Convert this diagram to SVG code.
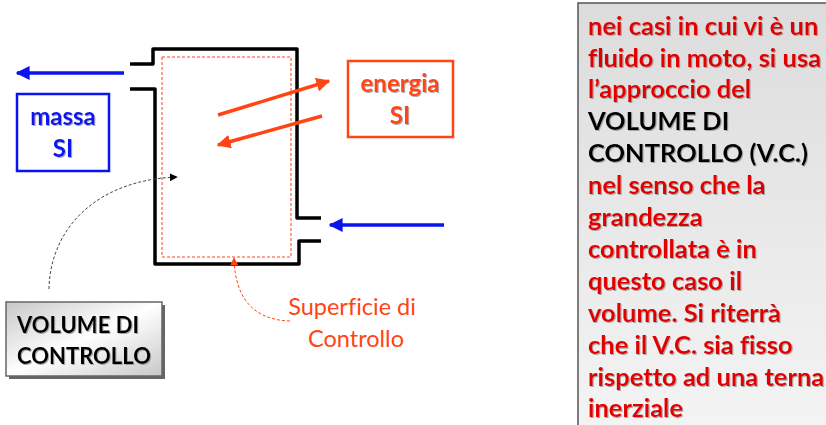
<svg xmlns="http://www.w3.org/2000/svg" width="826" height="425" viewBox="0 0 826 425">
<defs>
<style>
text{font-variant-ligatures:none}
.blue{stroke:#0a14f0;stroke-width:3.5;fill:none}
.orng{stroke:#ff4513;stroke-width:3.5;fill:none}
.lbl{font-family:Lato,"Liberation Sans",sans-serif;font-weight:bold;font-size:24px;text-anchor:middle}
.vc{font-family:Lato,"Liberation Sans",sans-serif;font-weight:bold;font-size:22px;fill:#000}
.sup{font-family:Lato,"Liberation Sans",sans-serif;font-size:23.5px;fill:#ff4513;text-anchor:middle}
.panel{font-family:Lato,"Liberation Sans",sans-serif;font-weight:bold;font-size:25.5px;fill:#e00000}
.blk{fill:#000}
</style>
<marker id="ab" viewBox="0 0 10 10" refX="9" refY="5" markerWidth="4" markerHeight="4" orient="auto" markerUnits="strokeWidth"><path d="M0,0L10,5L0,10z" fill="#0a14f0"/></marker>
<marker id="ao" viewBox="0 0 10 10" refX="9" refY="5" markerWidth="4" markerHeight="4" orient="auto" markerUnits="strokeWidth"><path d="M0,0L10,5L0,10z" fill="#ff4513"/></marker>
<marker id="ak" viewBox="0 0 10 10" refX="9" refY="5" markerWidth="8" markerHeight="8" orient="auto" markerUnits="userSpaceOnUse"><path d="M0,0L10,5L0,10z" fill="#000"/></marker>
<marker id="ar" viewBox="0 0 10 10" refX="9" refY="5" markerWidth="8" markerHeight="8" orient="auto" markerUnits="userSpaceOnUse"><path d="M0,0L10,5L0,10z" fill="#ff4513"/></marker>
<linearGradient id="gp" x1="0" y1="0" x2="0" y2="1"><stop offset="0" stop-color="#dcdcdc"/><stop offset="1" stop-color="#f4f4f4"/></linearGradient>
<linearGradient id="gv" x1="0" y1="0" x2="1" y2="1"><stop offset="0" stop-color="#c8c8c8"/><stop offset="0.5" stop-color="#ffffff"/><stop offset="1" stop-color="#c8c8c8"/></linearGradient>
<filter id="ts" x="-5%" y="-5%" width="110%" height="120%"><feDropShadow dx="1" dy="1" stdDeviation="0.6" flood-color="#888" flood-opacity="0.7"/></filter>
</defs>
<rect width="826" height="425" fill="#fff"/>

<g id="vessel">
<path d="M130,64H153V49H297V218H321M321,241H299V264H155V89H130" fill="none" stroke="#000" stroke-width="3.5" stroke-linejoin="round"/>
<rect x="162" y="57" width="129" height="200" fill="none" stroke="#ff4513" stroke-width="1" stroke-dasharray="3,2"/>
</g>

<g id="connectors">
<line class="blue" x1="124" y1="73" x2="17" y2="73" marker-end="url(#ab)"/>
<line class="blue" x1="444" y1="225" x2="330" y2="225" marker-end="url(#ab)"/>
<line class="orng" x1="218" y1="115" x2="329" y2="81" marker-end="url(#ao)"/>
<line class="orng" x1="322" y1="116" x2="218" y2="145" marker-end="url(#ao)"/>
<path d="M49,289C50,230 95,180 177,177" fill="none" stroke="#444" stroke-width="1" stroke-dasharray="3,2" marker-end="url(#ak)"/>
<path d="M290,321C255,320 235,300 234,258" fill="none" stroke="#ff4513" stroke-width="1" stroke-dasharray="3,2" marker-end="url(#ar)"/>
</g>

<g id="massa">
<rect x="17" y="94" width="92" height="77" fill="#fff" stroke="#0a14f0" stroke-width="2.5"/>
<text class="lbl" x="63" y="125" fill="#0a14f0" filter="url(#ts)">massa</text>
<text class="lbl" x="63" y="157" fill="#0a14f0" filter="url(#ts)">SI</text>
</g>

<g id="energia">
<rect x="348" y="61" width="105" height="76" fill="#fff" stroke="#ff4513" stroke-width="2.5"/>
<text class="lbl" x="400" y="92" fill="#ff4513" filter="url(#ts)">energia</text>
<text class="lbl" x="400" y="124" fill="#ff4513" filter="url(#ts)">SI</text>
</g>

<g id="superficie">
<text class="sup" x="352" y="315">Superficie di</text>
<text class="sup" x="356" y="347">Controllo</text>
</g>

<g id="volume">
<rect x="9" y="305" width="156" height="74" fill="#666"/>
<rect x="6" y="302" width="156" height="74" fill="url(#gv)" stroke="#666" stroke-width="1.5"/>
<text class="vc" x="17" y="333" filter="url(#ts)">VOLUME DI</text>
<text class="vc" x="17" y="364" filter="url(#ts)">CONTROLLO</text>
</g>

<g id="panel">
<rect x="578" y="3" width="260" height="430" fill="url(#gp)" stroke="#555" stroke-width="1.5"/>
<g class="panel" filter="url(#ts)">
<text x="588" y="35">nei casi in cui vi è un</text>
<text x="588" y="67">fluido in moto, si usa</text>
<text x="588" y="98">l’approccio del</text>
<text x="588" y="130" class="blk">VOLUME DI</text>
<text x="588" y="162" class="blk">CONTROLLO (V.C.)</text>
<text x="588" y="194">nel senso che la</text>
<text x="588" y="226">grandezza</text>
<text x="588" y="258">controllata è in</text>
<text x="588" y="290">questo caso il</text>
<text x="588" y="322">volume. Si riterrà</text>
<text x="588" y="354">che il V.C. sia fisso</text>
<text x="588" y="386">rispetto ad una terna</text>
<text x="588" y="417">inerziale</text>
</g>
</g>
</svg>
